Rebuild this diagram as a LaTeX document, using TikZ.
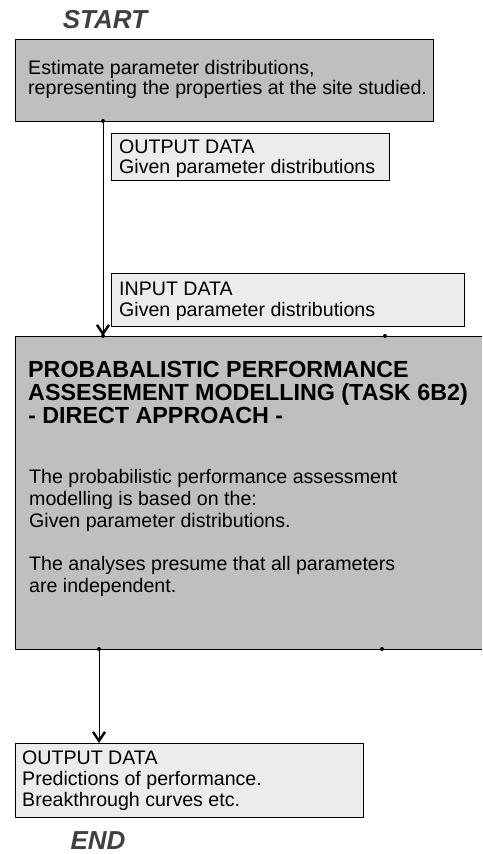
\documentclass[tikz,border=0pt]{standalone}
\usepackage{fontspec}
\setmainfont{Liberation Sans}
\usetikzlibrary{arrows.meta}
\definecolor{boxgray}{HTML}{BFBFBF}
\definecolor{lightbox}{HTML}{ECECEC}
\definecolor{headgray}{HTML}{404040}
\tikzset{
  txt/.style={anchor=base west, inner sep=0pt, font=\fontsize{19.6}{21}\selectfont},
  ttl/.style={anchor=base west, inner sep=0pt, font=\fontsize{23.3}{24}\selectfont\bfseries},
  endlabel/.style={anchor=base, inner sep=0pt, text=headgray, font=\fontsize{26}{26}\selectfont\bfseries\itshape},
  conn/.style={line width=0.9pt, -{Straight Barb[length=9pt,width=12pt,line width=2.4pt]}},
  pt/.style={circle, fill=black, inner sep=0pt, minimum size=4pt},
  boxline/.style={line width=1pt},
}
\begin{document}
\begin{tikzpicture}[x=1pt,y=1pt]
\useasboundingbox (0,0) rectangle (482,-854);
% START
\node[endlabel] (start) at (105,-28) {START};
% top box
\draw[boxline, fill=boxgray] (15,-39) rectangle (433,-121);
\node[txt] (t1) at (28,-74) {Estimate parameter distributions,};
\node[txt] (t2) at (28,-94) {representing the properties at the site studied.};
% output data box 1
\draw[boxline, fill=lightbox] (111,-133) rectangle (389,-180);
\node[txt] (o1) at (119,-153) {OUTPUT DATA};
\node[txt] (o2) at (119,-173) {Given parameter distributions};
% input data box
\draw[boxline, fill=lightbox] (111,-273) rectangle (464,-326);
\node[txt] (i1) at (119,-295) {INPUT DATA};
\node[txt] (i2) at (119,-316) {Given parameter distributions};
% big box
\fill[boxgray] (15,-336) rectangle (482,-649);
\draw[boxline] (482,-336) -- (15,-336) -- (15,-649) -- (482,-649);
\node[ttl] (b1) at (28,-377) {PROBABALISTIC PERFORMANCE};
\node[ttl] (b2) at (28,-400) {ASSESEMENT MODELLING (TASK 6B2)};
\node[ttl] (b3) at (28,-423) {- DIRECT APPROACH -};
\node[txt] (p1) at (29,-483) {The probabilistic performance assessment};
\node[txt] (p2) at (29,-505) {modelling is based on the:};
\node[txt] (p3) at (29,-527) {Given parameter distributions.};
\node[txt] (p4) at (29,-570) {The analyses presume that all parameters};
\node[txt] (p5) at (29,-592) {are independent.};
% output box bottom
\draw[boxline, fill=lightbox] (15,-743) rectangle (363,-817);
\node[txt] (q1) at (22,-764) {OUTPUT DATA};
\node[txt] (q2) at (22,-785) {Predictions of performance.};
\node[txt] (q3) at (22,-806) {Breakthrough curves etc.};
% END
\node[endlabel] (end) at (98,-849) {END};
% connection points
\node[pt] (a1) at (103,-121) {};
\node[pt] (a2) at (103,-336) {};
\node[pt] (a3) at (385,-336) {};
\node[pt] (a4) at (99,-649) {};
\node[pt] (a5) at (382,-649) {};
\coordinate (a6) at (99,-743);
\draw[conn] (a1.center) -- (a2.center);
\draw[conn] (a4.center) -- (a6);
\end{tikzpicture}
\end{document}
